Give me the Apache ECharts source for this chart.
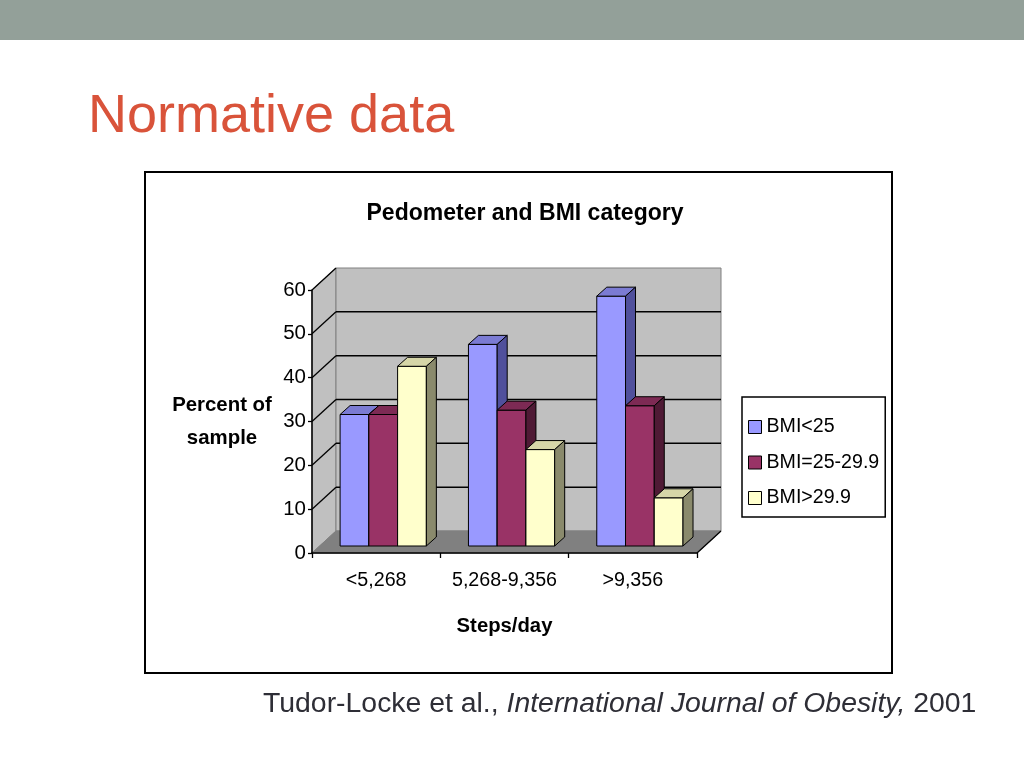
<!DOCTYPE html>
<html>
<head>
<meta charset="utf-8">
<style>
html,body{margin:0;padding:0;background:#fff;}
#chart{width:1024px;height:768px;}
</style>
<script src="https://cdn.jsdelivr.net/npm/echarts@6/dist/echarts.min.js"></script>
</head>
<body>
<div id="chart"></div>
<script>
// ---- data ----
const categories = ['<5,268', '5,268-9,356', '>9,356'];
const seriesNames = ['BMI<25', 'BMI=25-29.9', 'BMI>29.9'];
const bmiUnder25 = [30, 46, 57];
const bmi25to29 = [30, 31, 32];
const bmiOver29 = [41, 22, 11];
const yTicks = [0, 10, 20, 30, 40, 50, 60];

const NARROW = "'Liberation Sans', Arial, Helvetica, sans-serif";
const SANS = "'Liberation Sans', Arial, Helvetica, sans-serif";

const palettes = [
  { front: '#9999FF', top: '#7B7BD3', side: '#50509C' },
  { front: '#993366', top: '#7D2A54', side: '#4F1A35' },
  { front: '#FFFFCC', top: '#D6D6A8', side: '#8A8A6C' }
];

const yMin = yTicks[0], yMax = yTicks[yTicks.length - 1], yStep = yTicks[1] - yTicks[0];

function makeBarRender(idx, n, pal) {
  return function (params, api) {
    const cat = api.value(0), val = api.value(1);
    const base = api.coord([cat, 0]);
    const topPt = api.coord([cat, val]);
    const bandW = api.size([1, 0])[0];
    const bw = bandW * 0.224;
    const ox = bandW * 0.055, oy = -7;
    const dx = bandW * 0.078, dy = -9;
    const x0 = base[0] + ox + (idx - n / 2) * bw;
    const yb = base[1] + oy, yt = topPt[1] + oy;
    const st = { stroke: '#000', lineWidth: 1 };
    return {
      type: 'group',
      children: [
        { type: 'rect', shape: { x: x0, y: yt, width: bw, height: yb - yt }, style: Object.assign({ fill: pal.front }, st) },
        { type: 'polygon', shape: { points: [[x0, yt], [x0 + bw, yt], [x0 + bw + dx, yt + dy], [x0 + dx, yt + dy]] }, style: Object.assign({ fill: pal.top }, st) },
        { type: 'polygon', shape: { points: [[x0 + bw, yt], [x0 + bw + dx, yt + dy], [x0 + bw + dx, yb + dy], [x0 + bw, yb]] }, style: Object.assign({ fill: pal.side }, st) }
      ]
    };
  };
}

function renderFrame(params, api) {
  const o = api.coord([0, yMin]);
  const bandW = api.size([1, 0])[0];
  const xL = o[0] - bandW / 2;
  const xR = xL + bandW * categories.length;
  const yB = o[1];
  const yT = api.coord([0, yMax])[1];
  const DX = 24, DY = -22;
  const children = [];
  children.push({ type: 'polygon', shape: { points: [[xL, yB], [xL + DX, yB + DY], [xL + DX, yT + DY], [xL, yT]] }, style: { fill: '#C0C0C0', stroke: '#808080', lineWidth: 1 } });
  children.push({ type: 'rect', shape: { x: xL + DX, y: yT + DY, width: xR - xL, height: yB - yT }, style: { fill: '#C0C0C0', stroke: '#808080', lineWidth: 1 } });
  children.push({ type: 'polygon', shape: { points: [[xL, yB], [xR, yB], [xR + DX, yB + DY], [xL + DX, yB + DY]] }, style: { fill: '#808080', stroke: '#808080', lineWidth: 1 } });
  yTicks.forEach(function (v) {
    if (v === yMin) return;
    const y = api.coord([0, v])[1];
    children.push({ type: 'line', shape: { x1: xL, y1: y, x2: xL + DX, y2: y + DY }, style: { stroke: '#000', lineWidth: 1.3 } });
    if (v !== yMax) {
      children.push({ type: 'line', shape: { x1: xL + DX, y1: y + DY, x2: xR + DX, y2: y + DY }, style: { stroke: '#000', lineWidth: 1.5 } });
    }
  });
  children.push({ type: 'line', shape: { x1: xR, y1: yB, x2: xR + DX, y2: yB + DY }, style: { stroke: '#000', lineWidth: 1.3 } });
  return { type: 'group', children: children };
}

const valueSets = [bmiUnder25, bmi25to29, bmiOver29];

const series = [{
  type: 'custom',
  name: '__frame',
  renderItem: renderFrame,
  data: [[0, 0]],
  z: 1,
  silent: true,
  legendHoverLink: false
}];
valueSets.forEach(function (vals, i) {
  series.push({
    type: 'custom',
    name: seriesNames[i],
    renderItem: makeBarRender(i, valueSets.length, palettes[i]),
    data: vals.map(function (v, c) { return [c, v]; }),
    itemStyle: { color: palettes[i].front },
    z: 3 + i
  });
});

const chart = echarts.init(document.getElementById('chart'), null, { renderer: 'canvas' });
chart.setOption({
  animation: false,
  backgroundColor: '#fff',
  title: {
    text: 'Pedometer and BMI category',
    left: 520,
    top: 197,
    textAlign: 'center',
    textStyle: { fontFamily: NARROW, fontWeight: 'bold', fontSize: 23, color: '#000' }
  },
  legend: {
    data: seriesNames,
    orient: 'vertical',
    left: 742,
    top: 397,
    padding: [20, 6, 9, 6],
    itemGap: 15.5,
    itemWidth: 13,
    itemHeight: 13,
    icon: 'rect',
    borderColor: '#000',
    borderWidth: 1.5,
    backgroundColor: '#fff',
    itemStyle: { borderColor: '#000', borderWidth: 1 },
    textStyle: { fontFamily: NARROW, fontSize: 19.6, color: '#000', lineHeight: 20 }
  },
  grid: { left: 312, right: 327, top: 290, bottom: 215 },
  xAxis: {
    type: 'category',
    data: categories,
    z: 10,
    boundaryGap: true,
    axisLine: { lineStyle: { color: '#000', width: 1.5 } },
    axisTick: { show: true, length: 5, lineStyle: { color: '#000', width: 1.3 } },
    axisLabel: { interval: 0, margin: 18, fontFamily: NARROW, fontSize: 19.7, color: '#000' },
    name: 'Steps/day',
    nameLocation: 'middle',
    nameGap: 73,
    nameMoveOverlap: false,
    nameTextStyle: { fontFamily: NARROW, fontWeight: 'bold', fontSize: 20.3, color: '#000', verticalAlign: 'middle' },
    splitLine: { show: false }
  },
  yAxis: {
    type: 'value',
    min: yMin,
    max: yMax,
    interval: yStep,
    z: 10,
    axisLine: { show: true, lineStyle: { color: '#000', width: 1.5 } },
    axisTick: { show: true, length: 4, lineStyle: { color: '#000', width: 1.3 } },
    axisLabel: { margin: 6, fontFamily: NARROW, fontSize: 20.5, color: '#000' },
    splitLine: { show: false },
    name: 'Percent of\nsample',
    nameLocation: 'middle',
    nameRotate: 0,
    nameGap: 90,
    nameMoveOverlap: false,
    nameTextStyle: { fontFamily: NARROW, fontWeight: 'bold', fontSize: 20.4, color: '#000', lineHeight: 33, align: 'center', verticalAlign: 'middle' }
  },
  graphic: [
    { type: 'rect', left: 0, top: 0, shape: { width: 1024, height: 40 }, style: { fill: '#93A099' }, z: -10 },
    { type: 'rect', shape: { x: 145, y: 172, width: 747, height: 501 }, style: { fill: 'none', stroke: '#000', lineWidth: 2 }, z: -10 },
    { type: 'text', x: 88, y: 117, style: { text: 'Normative data', fontFamily: SANS, fontSize: 54, fill: '#D9533A', verticalAlign: 'middle', align: 'left' } },
    { type: 'text', x: 263, y: 704, style: {
        text: '{n|Tudor-Locke et al., }{i|International Journal of Obesity,}{n| 2001}',
        verticalAlign: 'middle', align: 'left',
        rich: {
          n: { fontFamily: SANS, fontSize: 28.4, fill: '#2E2E36', color: '#2E2E36' },
          i: { fontFamily: SANS, fontSize: 28.4, fontStyle: 'italic', fill: '#2E2E36', color: '#2E2E36' }
        }
      } }
  ],
  series: series
});
</script>
</body>
</html>
